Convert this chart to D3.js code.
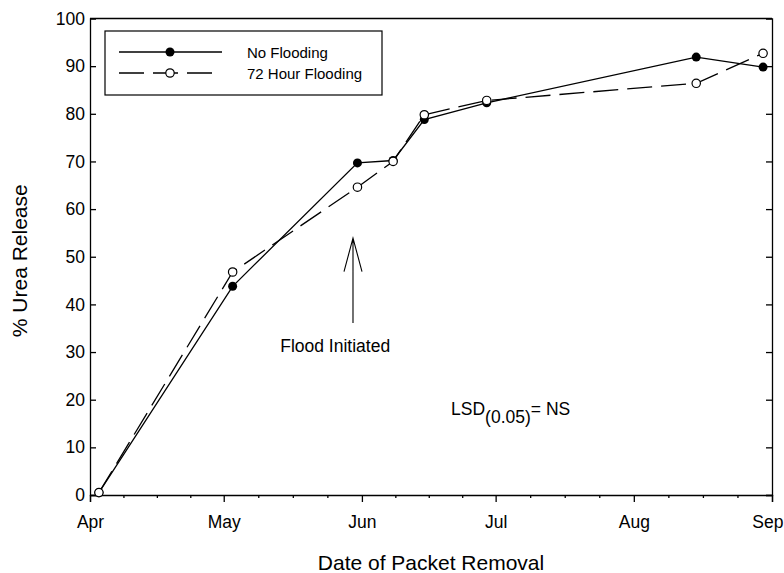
<!DOCTYPE html>
<html>
<head>
<meta charset="utf-8">
<script src="https://cdn.jsdelivr.net/npm/d3@7"></script>
<style>
  body { margin: 0; background: #fff; }
  svg { display: block; font-family: "Liberation Sans", Arial, sans-serif; }
</style>
</head>
<body>
<svg id="chart" width="784" height="573"></svg>
<script>
// packet removal dates and % urea released
const dates      = ["2000-04-03", "2000-05-03", "2000-05-31", "2000-06-08", "2000-06-15", "2000-06-29", "2000-08-15", "2000-08-30"];
const noFlooding = [0.5, 43.8, 69.7, 70.2, 78.8, 82.3, 91.9, 89.8];
const flooding72 = [0.5, 46.8, 64.6, 70.0, 79.8, 82.8, 86.4, 92.7];
const monthTicks = ["2000-04-01", "2000-05-01", "2000-06-01", "2000-07-01", "2000-08-01", "2000-09-01"];
const monthNames = ["Apr", "May", "Jun", "Jul", "Aug", "Sep"];
const yTicks     = [0, 10, 20, 30, 40, 50, 60, 70, 80, 90, 100];

const parse = d3.utcParse("%Y-%m-%d");
const mLeft = 90, mRight = 772, mTop = 18.5, mBottom = 495;

const svg = d3.select("#chart");
const x = d3.scaleUtc().domain([parse(monthTicks[0]), parse(monthTicks[5])]).range([mLeft, mRight]);
const y = d3.scaleLinear().domain([0, 100]).range([mBottom, mTop]);

// minor ticks: quarter months
let minor = [];
for (let i = 0; i < monthTicks.length - 1; i++) {
  let a = parse(monthTicks[i]).getTime(), b = parse(monthTicks[i + 1]).getTime();
  for (let k = 1; k < 4; k++) minor.push(new Date(a + (b - a) * k / 4));
}

// frame top line
svg.append("line").attr("x1", mLeft).attr("x2", mRight).attr("y1", mTop).attr("y2", mTop)
  .attr("stroke", "#000").attr("stroke-width", 1.3);

// x axis
let xAxis = svg.append("g").attr("transform", `translate(0,${mBottom})`)
  .call(d3.axisBottom(x).tickValues(monthTicks.map(parse)).tickSize(7)
    .tickFormat((d, i) => monthNames[i]));
xAxis.selectAll("text").attr("y", 33).attr("dy", 0).style("font-size", "17.5px");
// last label sits flush with the right edge
xAxis.selectAll(".tick:last-of-type text").attr("text-anchor", "end").attr("x", 11);
svg.append("g").attr("transform", `translate(0,${mBottom})`)
  .call(d3.axisBottom(x).tickValues(minor).tickSize(3).tickFormat(""))
  .call(g => g.select(".domain").remove());

// y axis, ticks inward
let yAxis = svg.append("g").attr("transform", `translate(${mLeft},0)`)
  .call(d3.axisLeft(y).tickValues(yTicks.slice(0, 10)).tickSize(-6).tickPadding(5));
yAxis.selectAll("text").style("font-size", "17.5px");
svg.append("g").attr("transform", `translate(${mLeft},0)`)
  .call(d3.axisLeft(y).tickValues([100]).tickSize(0).tickPadding(5))
  .call(g => g.select(".domain").remove())
  .selectAll("text").style("font-size", "17.5px");
svg.append("g").attr("transform", `translate(${mRight},0)`)
  .call(d3.axisRight(y).tickValues(yTicks.slice(0, 10)).tickSize(-6).tickFormat(""));

svg.selectAll(".domain, .tick line").attr("stroke", "#000").attr("stroke-width", 1.3);
svg.selectAll(".tick text").attr("fill", "#000");

// axis titles
svg.append("text").attr("x", (mLeft + mRight) / 2).attr("y", 570).attr("text-anchor", "middle")
  .style("font-size", "21px").text("Date of Packet Removal");
svg.append("text").attr("transform", `translate(26.5,${(mTop + mBottom) / 2 + 4}) rotate(-90)`)
  .attr("text-anchor", "middle").style("font-size", "21px").text("% Urea Release");

// series
const pts = (vals) => dates.map((d, i) => ({ date: parse(d), v: vals[i] }));
const line = d3.line().x(d => x(d.date)).y(d => y(d.v));

svg.append("path").datum(pts(noFlooding)).attr("d", line)
  .attr("fill", "none").attr("stroke", "#000").attr("stroke-width", 1.3);
svg.append("g").selectAll("circle").data(pts(noFlooding)).join("circle")
  .attr("cx", d => x(d.date)).attr("cy", d => y(d.v)).attr("r", 4.5).attr("fill", "#000");

svg.append("path").datum(pts(flooding72)).attr("d", line)
  .attr("fill", "none").attr("stroke", "#000").attr("stroke-width", 1.3).attr("stroke-dasharray", "25,9");
svg.append("g").selectAll("circle").data(pts(flooding72)).join("circle")
  .attr("cx", d => x(d.date)).attr("cy", d => y(d.v)).attr("r", 4.2)
  .attr("fill", "#fff").attr("stroke", "#000").attr("stroke-width", 1.2);

// flood arrow annotation
const arrowDate = parse("2000-05-30");
const ax = x(arrowDate);
svg.append("path")
  .attr("d", `M${ax},${y(36.1)}V${y(53.9)}M${ax - 9},${y(46.9)}L${ax},${y(53.9)}L${ax + 9},${y(46.9)}`)
  .attr("fill", "none").attr("stroke", "#000").attr("stroke-width", 1.1);
svg.append("text").attr("x", x(parse("2000-05-26"))).attr("y", y(30)).attr("text-anchor", "middle")
  .style("font-size", "17.5px").text("Flood Initiated");

// LSD note
let lsd = svg.append("text").attr("x", x(parse("2000-06-21"))).attr("y", y(16.8)).style("font-size", "17.5px");
lsd.append("tspan").text("LSD");
lsd.append("tspan").attr("dy", 8).text("(0.05)");
lsd.append("tspan").attr("dy", -8).text("= NS");

// legend
let lg = svg.append("g");
lg.append("rect").attr("x", 105).attr("y", 31).attr("width", 277).attr("height", 64)
  .attr("fill", "#fff").attr("stroke", "#000").attr("stroke-width", 1.2);
lg.append("line").attr("x1", 119).attr("x2", 222).attr("y1", 52).attr("y2", 52)
  .attr("stroke", "#000").attr("stroke-width", 1.3);
lg.append("circle").attr("cx", 170).attr("cy", 52).attr("r", 4.5).attr("fill", "#000");
lg.append("line").attr("x1", 119).attr("x2", 212).attr("y1", 73).attr("y2", 73)
  .attr("stroke", "#000").attr("stroke-width", 1.3).attr("stroke-dasharray", "25,9");
lg.append("circle").attr("cx", 170).attr("cy", 73).attr("r", 4.2)
  .attr("fill", "#fff").attr("stroke", "#000").attr("stroke-width", 1.2);
lg.append("text").attr("x", 247).attr("y", 57.5).style("font-size", "15px").text("No Flooding");
lg.append("text").attr("x", 247).attr("y", 78.5).style("font-size", "15px").text("72 Hour Flooding");
</script>
</body>
</html>
